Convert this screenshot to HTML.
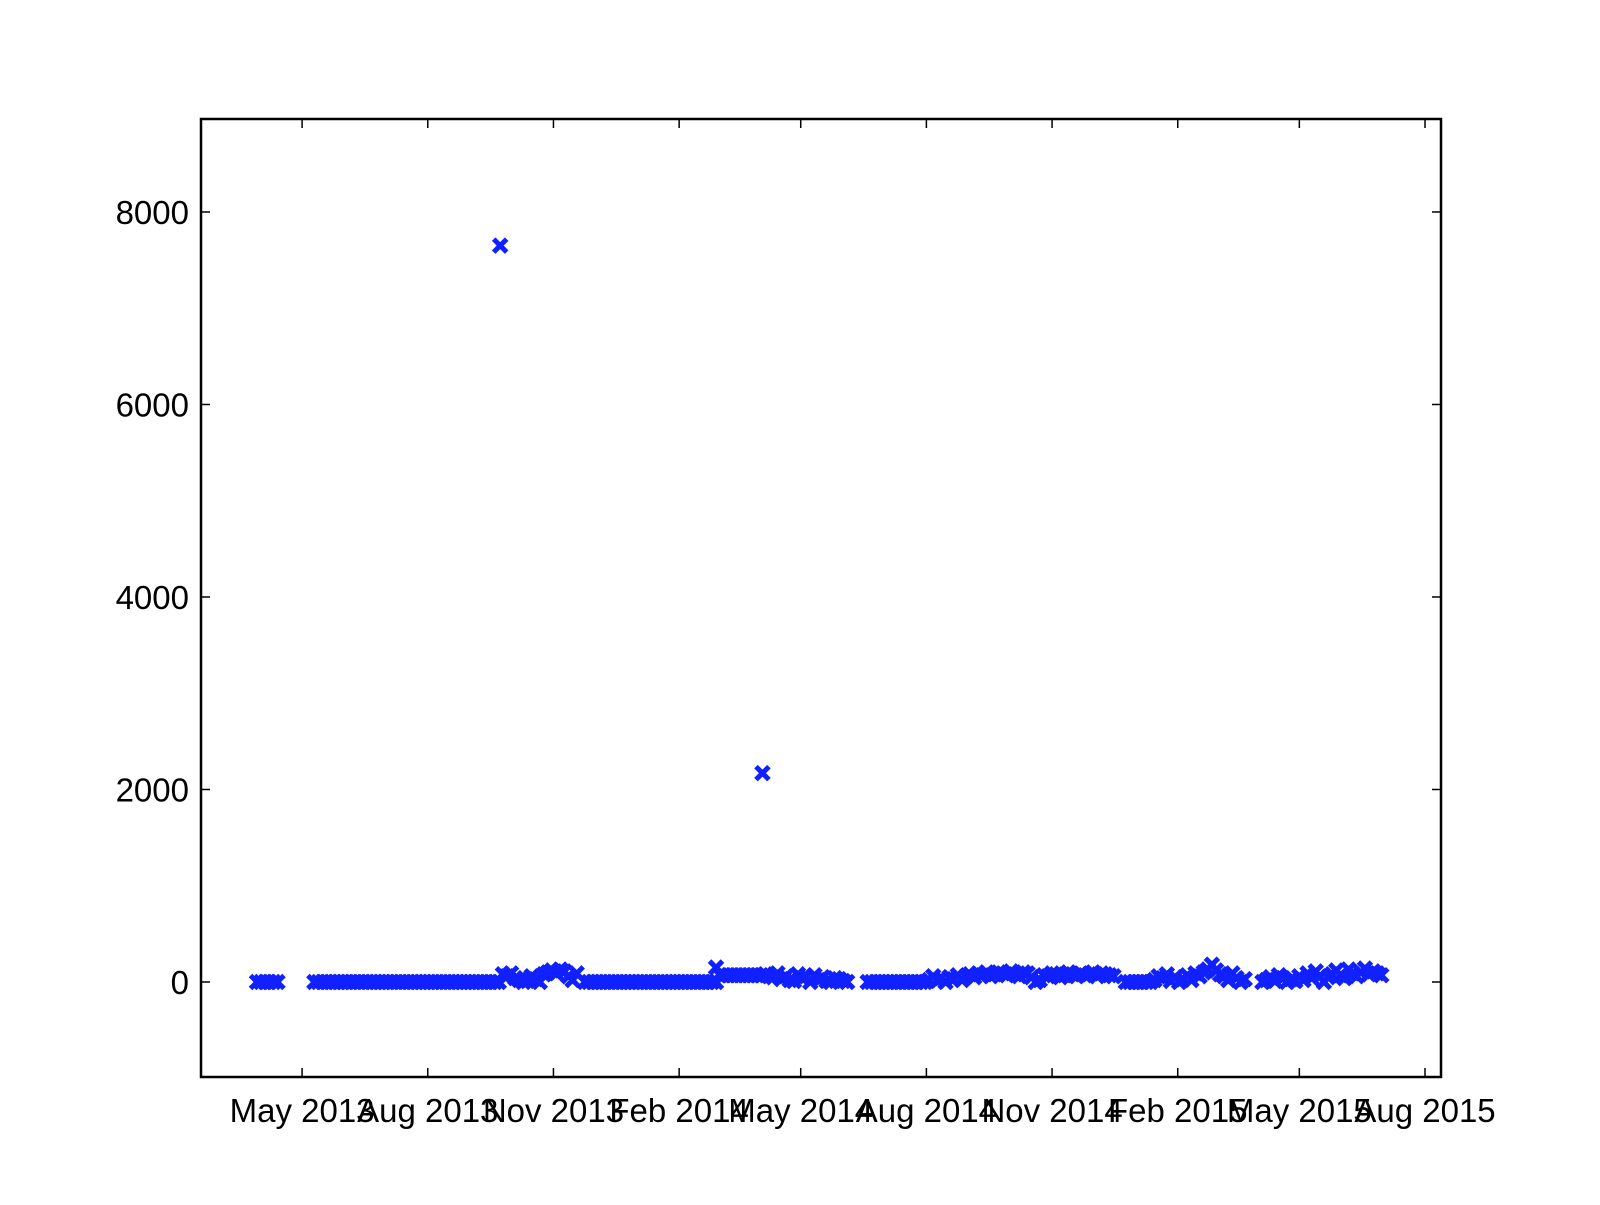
<!DOCTYPE html>
<html><head><meta charset="utf-8"><style>
body{margin:0;background:#fff}
svg text{font-family:"Liberation Sans",sans-serif;font-size:33px;fill:#000}
</style></head><body>
<svg id="chart" width="1600" height="1200" xmlns="http://www.w3.org/2000/svg">
<rect x="0" y="0" width="1600" height="1200" fill="#fff"/>
<g id="marks"></g>
<rect x="201" y="119" width="1240" height="958" fill="none" stroke="#000" stroke-width="2.5"/>
<g id="axes"></g>
</svg>
<script>
// day offsets relative to 1 May 2013
const xTickDays = [0, 92, 184, 276, 365, 457, 549, 641, 730, 822];
const xTickLabels = ["May 2013","Aug 2013","Nov 2013","Feb 2014","May 2014","Aug 2014","Nov 2014","Feb 2015","May 2015","Aug 2015"];
const yTicks = [0, 2000, 4000, 6000, 8000];
const segStarts = [-33, 9, 147, 207, 303, 306, 414, 456, 603, 624, 703];
const segStep = 3;
const segValues = [
 [0,0,0,0,0,0],
 [0,0,0,0,0,0,0,0,0,0,0,0,0,0,0,0,0,0,0,0,0,0,0,0,0,0,0,0,0,0,0,0,0,0,0,0,0,0,0,0,0,0,0,0,0,0],
 [80,60,90,40,20,0,10,60,30,0,80,100,120,90,130,110,60,20,90],
 [0,0,0,0,0,0,0,0,0,0,0,0,0,0,0,0,0,0,0,0,0,0,0,0,0,0,0,0,0,0,0,0,0],
 [150],
 [70,70,70,70,70,70,70,70,70,70,70,80,60,50,90,30,60,20,10,80,40,60,0,70,20,50,10,0,40,30,10,0],
 [0,0,0,0,0,0,0,0,0,0,0,0,0,0],
 [0,20,60,10,40,0,50,30,70,20,60,80,50,90,70,100,60,80,100,90,70,110,80,60,100,90,50,0,20,70,60,90,80,50,70,100,80,60,90,70,80,100,60,90,80,70,60],
 [0,0,0,0,0,0,0],
 [20,60,40,80,10,50,0,30,70,20,90,60,100,130,180,120,80,60,20,90,40,0,30],
 [0,20,50,10,70,40,0,30,10,60,20,90,40,110,60,0,50,80,120,70,40,130,90,60,100,140,80,110,90,70]
];
const outlierDays = [145, 337];
const outlierValues = [7650, 2170];

const L=201,R=1441,T=119,B=1077;
const dayMin=-74, dayMax=833.7, yMin=-987, yMax=8966;
const xs=d=>L+(d-dayMin)/(dayMax-dayMin)*(R-L);
const ys=v=>B-(v-yMin)/(yMax-yMin)*(B-T);
const NS="http://www.w3.org/2000/svg";
const marks=document.getElementById('marks');
function addX(d,v){
  const x=xs(d),y=ys(v),s=6.5;
  const p=document.createElementNS(NS,'path');
  p.setAttribute('d',`M${x-s},${y-s}L${x+s},${y+s}M${x-s},${y+s}L${x+s},${y-s}`);
  p.setAttribute('stroke','#1020ff');p.setAttribute('stroke-width','5');
  
  
  marks.appendChild(p);
}
segValues.forEach((vals,i)=>vals.forEach((v,j)=>addX(segStarts[i]+j*segStep,v)));
outlierDays.forEach((d,i)=>addX(d,outlierValues[i]));

const axes=document.getElementById('axes');
function line(x1,y1,x2,y2){const l=document.createElementNS(NS,'line');
 l.setAttribute('x1',x1);l.setAttribute('y1',y1);l.setAttribute('x2',x2);l.setAttribute('y2',y2);
 l.setAttribute('stroke','#000');l.setAttribute('stroke-width','1.5');
 
 
 axes.appendChild(l);}
yTicks.forEach(v=>{const y=ys(v);line(L,y,L+9,y);line(R,y,R-9,y);
 const t=document.createElementNS(NS,'text');t.setAttribute('x',189);t.setAttribute('y',y+12);
 t.setAttribute('text-anchor','end');t.textContent=v;
 
 
 axes.appendChild(t);});
xTickDays.forEach((d,i)=>{const x=xs(d);line(x,B,x,B-9);line(x,T,x,T+9);
 const t=document.createElementNS(NS,'text');t.setAttribute('x',x);t.setAttribute('y',1122);
 t.setAttribute('text-anchor','middle');t.textContent=xTickLabels[i];
 
 
 axes.appendChild(t);});
</script>
</body></html>
